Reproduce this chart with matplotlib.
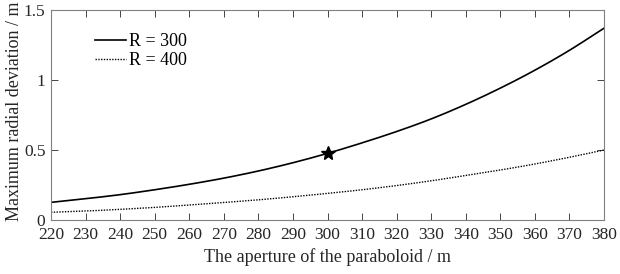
import matplotlib
matplotlib.use("Agg")
import matplotlib.pyplot as plt
import numpy as np

aperture = [220, 230, 240, 250, 260, 270, 280, 290, 300, 310, 320, 330, 340, 350, 360, 370, 380]
dev_r300 = [0.126, 0.152, 0.181, 0.216, 0.255, 0.299, 0.350, 0.409, 0.476, 0.551, 0.632, 0.722, 0.826, 0.942, 1.070, 1.212, 1.370]
dev_r400 = [0.055, 0.064, 0.076, 0.090, 0.107, 0.125, 0.144, 0.166, 0.190, 0.216, 0.246, 0.280, 0.318, 0.357, 0.400, 0.448, 0.500]
star_x = [300]
star_y = [0.476]
labels = ["R = 300", "R = 400"]
xticks = list(range(220, 381, 10))
yticks = [0, 0.5, 1, 1.5]
yticklabels = ["0", "0.5", "1", "1.5"]


def catmull_rom(x, y, n=20):
    x = np.asarray(x, float)
    y = np.asarray(y, float)
    xp = np.concatenate([[2 * x[0] - x[1]], x, [2 * x[-1] - x[-2]]])
    yp = np.concatenate([[2 * y[0] - y[1]], y, [2 * y[-1] - y[-2]]])
    ox, oy = [], []
    t = np.linspace(0, 1, n, endpoint=False)
    for i in range(1, len(xp) - 2):
        for arr, out in ((xp, ox), (yp, oy)):
            p0, p1, p2, p3 = arr[i - 1:i + 3]
            out.extend(0.5 * ((2 * p1) + (-p0 + p2) * t + (2 * p0 - 5 * p1 + 4 * p2 - p3) * t ** 2
                              + (-p0 + 3 * p1 - 3 * p2 + p3) * t ** 3))
    ox.append(x[-1])
    oy.append(y[-1])
    return np.array(ox), np.array(oy)


plt.rcParams['font.family'] = ['Liberation Serif', 'DejaVu Serif']
tick_fs = 12.5
label_fs = 13
W, H = 620, 274
L, R, T, B = 51, 604, 10, 220
fig = plt.figure(figsize=(W / 100, H / 100), dpi=100)
ax = fig.add_axes([L / W, 1 - B / H, (R - L) / W, (B - T) / H])

sx, sy = catmull_rom(aperture, dev_r300)
ax.plot(sx, sy, color='black', lw=1.2, label=labels[0])
sx, sy = catmull_rom(aperture, dev_r400)
ax.plot(sx, sy, color='black', lw=1.0, linestyle=(0, (1, 1)), label=labels[1])
ax.plot(star_x, star_y, marker='*', color='black', markersize=10, linestyle='none')

ax.set_xlim(220, 380)
ax.set_ylim(0, 1.5)
ax.set_xticks(xticks)
ax.set_yticks(yticks)
ax.set_yticklabels(yticklabels)
ax.tick_params(direction='in', top=True, right=True, labelsize=tick_fs, colors='#262626', length=5, width=0.6)
ax.tick_params(axis='x', pad=5)
ax.tick_params(axis='y', pad=4)
for s in ax.spines.values():
    s.set_color('#808080')
    s.set_linewidth(0.8)
ax.set_xlabel("The aperture of the paraboloid / m", fontsize=label_fs, color='#262626')
ax.set_ylabel("Maximum radial deviation / m", fontsize=label_fs, color='#262626')
ax.xaxis.set_label_coords(0.5, -(262 - B) / (B - T))
ax.yaxis.set_label_coords(-(L - 23) / (R - L), (B - 111) / (B - T))
ax.xaxis.label.set_va('baseline')
ax.legend(loc='upper left', bbox_to_anchor=((95 - L) / (R - L), (B - 33) / (B - T)), frameon=False,
          fontsize=13, handlelength=1.7, handletextpad=0.17, labelspacing=0.12,
          borderaxespad=0, borderpad=0)

fig.savefig("out.png", dpi=100)
